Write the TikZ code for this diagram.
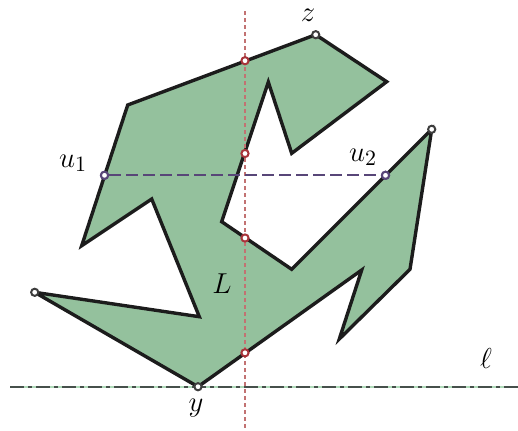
\documentclass[tikz,border=0pt]{standalone}
\definecolor{fillg}{RGB}{148,193,157}
\definecolor{redc}{RGB}{168,52,58}
\definecolor{redl}{RGB}{194,114,114}
\definecolor{purp}{RGB}{88,70,120}
\definecolor{dk}{RGB}{28,28,28}
\definecolor{lgreen}{RGB}{175,218,185}
\definecolor{ldark}{RGB}{70,80,75}
\begin{document}
\begin{tikzpicture}[x=0.5pt,y=-0.5pt,
  shapeline/.style={draw=dk,line width=1.7pt,fill=fillg,line join=miter,miter limit=4.6},
  ptbase/.style={circle,fill=white,inner sep=0pt,minimum size=3.6pt,line width=1pt},
  vtx/.style={ptbase,draw=dk!85},
  redpt/.style={ptbase,draw=redc},
  purpt/.style={ptbase,draw=purp},
  vline/.style={draw=redl,line width=0.85pt,dash pattern=on 2pt off 1.5pt},
  hline/.style={draw=purp,line width=1.15pt,dash pattern=on 6pt off 2.5pt},
  lbl/.style={font=\fontsize{15}{18}\selectfont,inner sep=0pt}]
\useasboundingbox (0,0) rectangle (518,430);
% polygon vertices
\coordinate (z) at (315.7,34.7);
\coordinate (p1) at (386.7,81.7);
\coordinate (p2) at (291.7,153.3);
\coordinate (p3) at (268.3,82.0);
\coordinate (p4) at (221.7,221.7);
\coordinate (p5) at (291.7,269.3);
\coordinate (w) at (431.7,129.3);
\coordinate (p6) at (410,269.3);
\coordinate (p7) at (339.3,339);
\coordinate (p8) at (361.7,270);
\coordinate (y) at (198,386.7);
\coordinate (v) at (34.7,292.3);
\coordinate (p9) at (199.3,316.7);
\coordinate (p10) at (151.7,199);
\coordinate (p11) at (81.7,245.7);
\coordinate (p12) at (127.7,105);
\path[shapeline] (z) -- (p1) -- (p2) -- (p3) -- (p4) -- (p5) -- (w) -- (p6) -- (p7) -- (p8) -- (y) -- (v) -- (p9) -- (p10) -- (p11) -- (p12) -- cycle;
% line ell
\coordinate (l1) at (10,386.7);
\coordinate (l2) at (518,386.7);
\draw[lgreen,line width=0.9pt] (l1) -- (l2);
\draw[ldark,line width=0.9pt,dash pattern=on 7pt off 2pt on 2pt off 2pt] (l1) -- (l2);
% vertical line
\coordinate (vt) at (245,11);
\coordinate (vb) at (245,430);
\draw[vline] (vt) -- (vb);
% horizontal u1-u2
\node[purpt] (u1) at (104.5,175.3) {};
\node[purpt] (u2) at (385.5,175.3) {};
\draw[hline] (u1) -- (u2);
\node[purpt] at (u1) {};
\node[purpt] at (u2) {};
% red points
\node[redpt] (r1) at (245,60.7) {};
\node[redpt] (r2) at (245,153.5) {};
\node[redpt] (r3) at (245,238) {};
\node[redpt] (r4) at (245,352.8) {};
% vertex points
\node[vtx] (zp) at (z) {};
\node[vtx] (wp) at (w) {};
\node[vtx] (vp) at (v) {};
\node[vtx] (yp) at (y) {};
% labels
\node[lbl] (zl) at (308,15) {$z$};
\node[lbl] (u1l) at (73,163) {$u_1$};
\node[lbl] (u2l) at (363,157) {$u_2$};
\node[lbl] (Ll) at (222,284) {$L$};
\node[lbl] (yl) at (196,408) {$y$};
\node[lbl] (ell) at (486,358) {$\ell$};
\end{tikzpicture}
\end{document}
